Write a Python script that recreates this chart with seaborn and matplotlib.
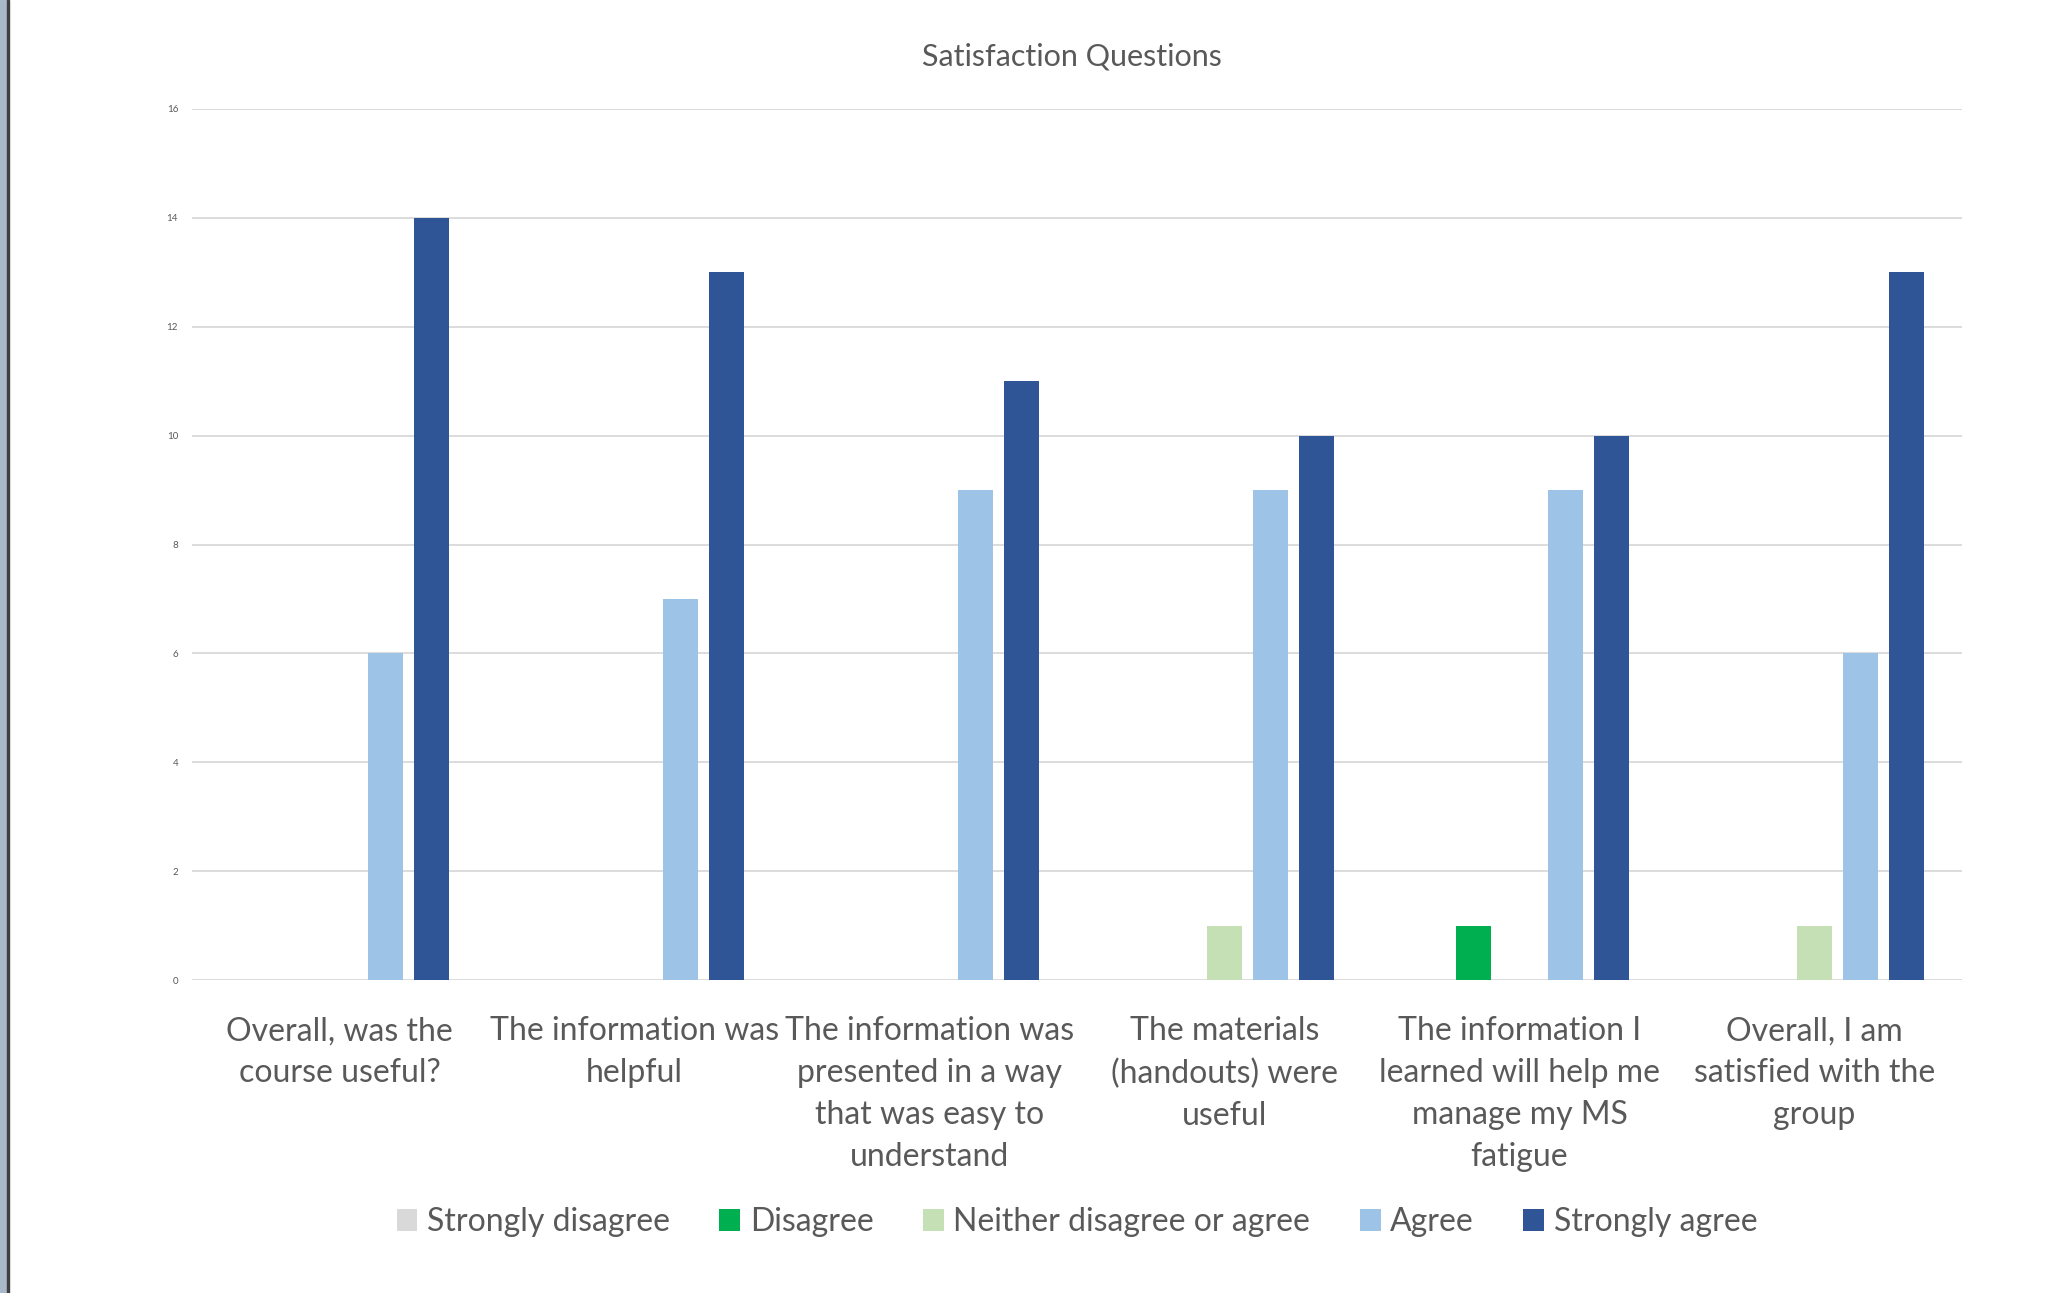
import matplotlib
matplotlib.use("Agg")
import matplotlib.pyplot as plt
import seaborn as sns
import pandas as pd

# Data
questions = [
    "Overall, was the\ncourse useful?",
    "The information was\nhelpful",
    "The information was\npresented in a way\nthat was easy to\nunderstand",
    "The materials\n(handouts) were\nuseful",
    "The information I\nlearned will help me\nmanage my MS\nfatigue",
    "Overall, I am\nsatisfied with the\ngroup",
]
responses = ["Strongly disagree", "Disagree", "Neither disagree or agree", "Agree", "Strongly agree"]
strongly_disagree = [0, 0, 0, 0, 0, 0]
disagree = [0, 0, 0, 0, 1, 0]
neither = [0, 0, 0, 1, 0, 1]
agree = [6, 7, 9, 9, 9, 6]
strongly_agree = [14, 13, 11, 10, 10, 13]
colors = ["#D9D9D9", "#00B050", "#C5E0B4", "#9DC3E6", "#2F5597"]

rows = []
for resp, vals in zip(responses, [strongly_disagree, disagree, neither, agree, strongly_agree]):
    for q, v in zip(questions, vals):
        rows.append({"question": q, "response": resp, "count": v})
df = pd.DataFrame(rows)

sns.set_theme(style="white")
plt.rcParams["font.family"] = ["Lato", "DejaVu Sans"]
text_col = "#595959"

fig = plt.figure(figsize=(20.65, 12.93), dpi=100)
ax = fig.add_axes([192 / 2065, 1 - 980 / 1293, 1770 / 2065, 871 / 1293])

sns.barplot(data=df, x="question", y="count", hue="response", hue_order=responses,
            order=questions, palette=colors, width=0.78, gap=0.22, ax=ax,
            saturation=1, linewidth=0)

ax.set_ylim(0, 16)
ax.set_yticks(range(0, 17, 2))
ax.yaxis.grid(True, color="#D9D9D9", linewidth=1.3)
ax.set_axisbelow(True)
for s in ax.spines.values():
    s.set_visible(False)
ax.tick_params(axis="y", labelsize=7, colors=text_col, length=0, pad=10)
ax.tick_params(axis="x", labelsize=23, colors=text_col, length=0, pad=26)
ax.set_xlabel("")
ax.set_ylabel("")
ax.set_xlim(-0.5, len(questions) - 0.5)
for lbl in ax.get_xticklabels():
    lbl.set_linespacing(1.5)

fig.text(1072 / 2065, 1 - 57 / 1293, "Satisfaction Questions", ha="center", va="center",
         fontsize=22, color=text_col)

sns.move_legend(ax, "center", bbox_to_anchor=(0.5, -0.278), ncol=5, frameon=False,
                fontsize=23, handlelength=0.65, handleheight=0.7, handletextpad=0.3,
                columnspacing=1.55, labelcolor=text_col, title=None)

# left window strip
fig.patches.append(plt.Rectangle((0, 0), 7 / 2065, 1, transform=fig.transFigure,
                                 color="#A9B9C9", zorder=5))
fig.patches.append(plt.Rectangle((7 / 2065, 0), 2 / 2065, 1, transform=fig.transFigure,
                                 color="#404040", zorder=5))

fig.savefig("out.png", dpi=100)
